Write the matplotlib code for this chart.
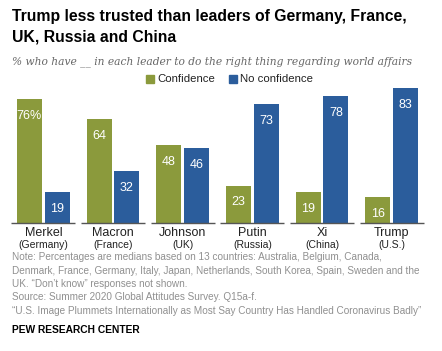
import matplotlib
matplotlib.use("Agg")
import matplotlib.pyplot as plt
from matplotlib import font_manager
import numpy as np

leaders = ["Merkel", "Macron", "Johnson", "Putin", "Xi", "Trump"]
countries = ["(Germany)", "(France)", "(UK)", "(Russia)", "(China)", "(U.S.)"]
confidence = [76, 64, 48, 23, 19, 16]
no_confidence = [19, 32, 46, 73, 78, 83]

green = "#8b9a3c"
blue = "#2b5d9c"
grey = "#909090"

names = {f.name for f in font_manager.fontManager.ttflist}
narrow = "Liberation Sans Narrow" if "Liberation Sans Narrow" in names else "Liberation Sans"

W, H = 442, 351
fig = plt.figure(figsize=(W / 100, H / 100), dpi=100)

# axes: x from 12 to 423 px, baseline at y=223, top at y=88 (=83)
ax = fig.add_axes([12 / W, 1 - 223 / H, (423 - 12) / W, (223 - 88) / H])
x = np.arange(len(leaders))
w = 0.36
off = 0.2
ax.bar(x - off, confidence, w, color=green, edgecolor="none")
ax.bar(x + off, no_confidence, w, color=blue, edgecolor="none")
ax.set_xlim(-0.45, 5.45)
ax.set_ylim(0, 83)
ax.axis("off")

# segmented baseline
for xi in x:
    ax.plot([xi - 0.46, xi + 0.46], [0, 0], color="#555555", lw=1.0,
            solid_capstyle="butt", clip_on=False)

for i in range(len(leaders)):
    lab = f"{confidence[i]}%" if i == 0 else f"{confidence[i]}"
    ax.annotate(lab, (x[i] - off, confidence[i]), xytext=(0, -12),
                textcoords="offset points", ha="center", va="center",
                color="white", fontsize=9, family="Liberation Sans")
    ax.annotate(f"{no_confidence[i]}", (x[i] + off, no_confidence[i]),
                xytext=(0, -12), textcoords="offset points", ha="center",
                va="center", color="white", fontsize=9, family="Liberation Sans")
    ax.annotate(leaders[i], (x[i], 0), xytext=(0, -7), textcoords="offset points",
                ha="center", va="center", fontsize=9, family="Liberation Sans",
                color="#222222")
    ax.annotate(countries[i], (x[i], 0), xytext=(0, -16), textcoords="offset points",
                ha="center", va="center", fontsize=7.5, family="Liberation Sans",
                color="#222222")

# title
fig.text(12 / W, 1 - 17 / H, "Trump less trusted than leaders of Germany, France,",
         ha="left", va="center", fontsize=11.3, fontweight="bold", family=narrow,
         color="black")
fig.text(12 / W, 1 - 37 / H, "UK, Russia and China",
         ha="left", va="center", fontsize=11.3, fontweight="bold", family=narrow,
         color="black")
fig.text(12 / W, 1 - 62 / H,
         "% who have __ in each leader to do the right thing regarding world affairs",
         ha="left", va="center", fontsize=7.7, style="italic", family="DejaVu Serif",
         color="#666666")

# legend
for sx, col, txt in [(146, green, "Confidence"), (229, blue, "No confidence")]:
    fig.patches.append(plt.Rectangle((sx / W, 1 - 83 / H), 7.5 / W, 7.5 / H,
                                     transform=fig.transFigure, color=col))
    fig.text((sx + 11) / W, 1 - 79 / H, txt, ha="left", va="center",
             fontsize=8.2, family="Liberation Sans", color="#222222")

notes = ["Note: Percentages are medians based on 13 countries: Australia, Belgium, Canada,",
         "Denmark, France, Germany, Italy, Japan, Netherlands, South Korea, Spain, Sweden and the",
         "UK. \u201cDon\u2019t know\u201d responses not shown.",
         "Source: Summer 2020 Global Attitudes Survey. Q15a-f.",
         "\u201cU.S. Image Plummets Internationally as Most Say Country Has Handled Coronavirus Badly\u201d"]
for k, line in enumerate(notes):
    fig.text(12 / W, 1 - (257 + 13.5 * k) / H, line, ha="left", va="center",
             fontsize=7.2, family=narrow, color=grey)
fig.text(12 / W, 1 - 330 / H, "PEW RESEARCH CENTER", ha="left", va="center",
         fontsize=7.4, fontweight="bold", family="Liberation Sans", color="black")

fig.savefig("out.png", dpi=100)
